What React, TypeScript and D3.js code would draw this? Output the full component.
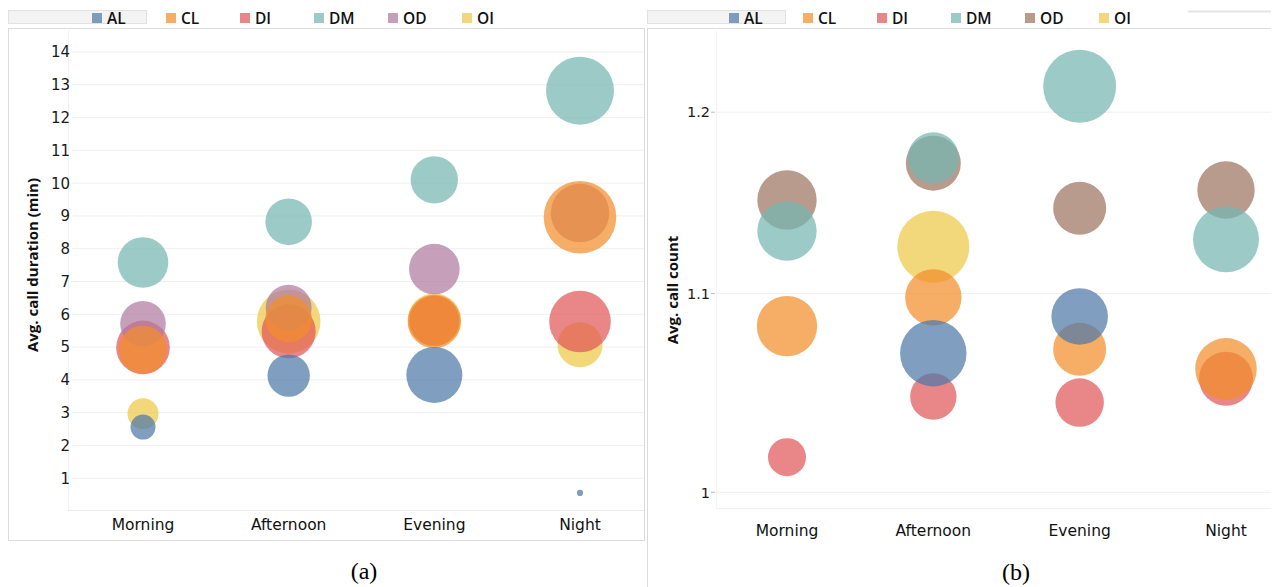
import React from "react";
import * as d3 from "d3";

const periods = ["Morning", "Afternoon", "Evening", "Night"];
const groups = ["AL", "CL", "DI", "DM", "OD", "OI"];

// (a) Avg. call duration (min)
const durAL = [2.56, 4.13, 4.15, 0.55];
const durCL = [4.92, 5.86, 5.78, 8.96];
const durDI = [4.99, 5.48, 5.8, 5.78];
const durDM = [7.58, 8.82, 10.1, 12.82];
const durOD = [5.71, 6.2, 7.38, 9.09];
const durOI = [2.97, 5.78, 5.83, 5.07];
const durSizeAL = [11.4, 32.8, 57.3, 0.7];
const durSizeCL = [42, 39.7, 52, 96.2];
const durSizeDI = [52.5, 53.3, 45.7, 69.3];
const durSizeDM = [46.8, 39.7, 41, 84.4];
const durSizeOD = [38, 38.6, 46.8, 62.7];
const durSizeOI = [17.5, 73.9, 51.3, 37];

// (b) Avg. call count
const cntAL = [null, 1.069, 1.088, null];
const cntCL = [1.083, 1.098, 1.071, 1.061];
const cntDI = [1.017, 1.047, 1.044, 1.056];
const cntDM = [1.1335, 1.174, 1.215, 1.129];
const cntOD = [1.1505, 1.171, 1.146, 1.156];
const cntOI = [null, 1.125, null, null];
const cntSizeAL = [null, 80.5, 58.5, null];
const cntSizeCL = [66.6, 58, 51.3, 69.3];
const cntSizeDI = [26.4, 39.3, 42.8, 53.3];
const cntSizeDM = [64.4, 47.5, 97.3, 79.5];
const cntSizeOD = [64.4, 55.2, 51.3, 60.2];
const cntSizeOI = [null, 94.7, null, null];

const durTicks = [1, 2, 3, 4, 5, 6, 7, 8, 9, 10, 11, 12, 13, 14];
const cntTicks = [1, 1.1, 1.2];

const colorsA: Record<string, string> = {
  AL: "#4E79A7", CL: "#F28E2B", DI: "#E15759", DM: "#76B7B2", OD: "#B07AA1", OI: "#EDC948",
};
const colorsB: Record<string, string> = {
  AL: "#4E79A7", CL: "#F28E2B", DI: "#E15759", DM: "#76B7B2", OD: "#9C755F", OI: "#EDC948",
};
const drawOrder = ["OI", "DI", "OD", "DM", "CL", "AL"];
const OPACITY = 0.72;
const FONT = "'Open Sans', 'Noto Sans', sans-serif";
const TICKFONT = "'DejaVu Sans', 'Open Sans', sans-serif";

const durValues: Record<string, number[]> = { AL: durAL, CL: durCL, DI: durDI, DM: durDM, OD: durOD, OI: durOI };
const durSizes: Record<string, number[]> = { AL: durSizeAL, CL: durSizeCL, DI: durSizeDI, DM: durSizeDM, OD: durSizeOD, OI: durSizeOI };
const cntValues: Record<string, (number | null)[]> = { AL: cntAL, CL: cntCL, DI: cntDI, DM: cntDM, OD: cntOD, OI: cntOI };
const cntSizes: Record<string, (number | null)[]> = { AL: cntSizeAL, CL: cntSizeCL, DI: cntSizeDI, DM: cntSizeDM, OD: cntSizeOD, OI: cntSizeOI };

const rScale = d3.scaleSqrt().domain([0, 100]).range([0, 37]);

function Legend({ x0, colors }: { x0: number; colors: Record<string, string> }) {
  const lx = d3.scalePoint<string>().domain(groups).range([x0, x0 + 370]);
  return (
    <g>
      {groups.map((g) => (
        <g key={g}>
          <rect x={(lx(g) as number) - 5} y={13} width={10} height={10} fill={colors[g]} fillOpacity={OPACITY} />
          <text x={(lx(g) as number) + 10} y={24} fontFamily={FONT} fontSize={15.5} fontWeight={600} fill="#111">{g}</text>
        </g>
      ))}
    </g>
  );
}

export default function App() {
  // Panel (a)
  const xA = d3.scalePoint<string>().domain(periods).range([143, 580]);
  const yA = d3.scaleLinear().domain([0, 14]).range([511, 52]);
  // Panel (b)
  const xB = d3.scalePoint<string>().domain(periods).range([787, 1226]);
  const yB = d3.scaleLog().domain([1, 1.2]).range([492.3, 112.2]);

  const marksA: { g: string; p: string; v: number; s: number }[] = [];
  const marksB: { g: string; p: string; v: number; s: number }[] = [];
  drawOrder.forEach((g) => {
    periods.forEach((p, i) => {
      marksA.push({ g, p, v: durValues[g][i], s: durSizes[g][i] });
      const v = cntValues[g][i];
      const s = cntSizes[g][i];
      if (v != null && s != null) marksB.push({ g, p, v, s });
    });
  });

  return (
    <svg width={1263} height={579} style={{ display: "block", margin: 0 }} viewBox="8 8 1263 579">
      <rect x={0} y={0} width={1279} height={587} fill="#fff" />
      {/* legend header strips */}
      <rect x={8.5} y={10.5} width={138} height={13} fill="#f3f3f3" stroke="#e2e2e2" />
      <rect x={647.5} y={10.5} width={138} height={13} fill="#f3f3f3" stroke="#e2e2e2" />
      <line x1={1188} x2={1279} y1={11.5} y2={11.5} stroke="#e4e4e4" strokeWidth={2} />

      {/* Panel (a) frame */}
      <rect x={8.5} y={28.5} width={636} height={512} fill="#fff" stroke="#dcdcdc" />
      <line x1={68.5} x2={68.5} y1={30} y2={510} stroke="#f2f2f2" />
      <line x1={68} x2={644} y1={510.5} y2={510.5} stroke="#ececec" />
      {durTicks.map((t) => (
        <g key={t}>
          <line x1={72} x2={644} y1={yA(t)} y2={yA(t)} stroke="#efefef" />
          <text x={70} y={yA(t)} dy="0.36em" textAnchor="end" fontFamily={TICKFONT} fontSize={15} fill="#1a1a1a">{t}</text>
        </g>
      ))}
      <text transform={`translate(38,265) rotate(-90)`} textAnchor="middle" fontFamily={FONT} fontSize={15} fontWeight={700} fill="#111">Avg. call duration (min)</text>
      {periods.map((p) => (
        <text key={p} x={xA(p)} y={529.5} textAnchor="middle" fontFamily={TICKFONT} fontSize={15.5} fill="#111">{p}</text>
      ))}
      {marksA.map((m, i) => (
        <circle key={i} cx={xA(m.p)} cy={yA(m.v)} r={Math.max(rScale(m.s), 2.5)} fill={colorsA[m.g]} fillOpacity={OPACITY} />
      ))}

      {/* Panel (b) frame */}
      <line x1={647.5} x2={647.5} y1={28} y2={587} stroke="#dcdcdc" />
      <line x1={647} x2={1279} y1={28.5} y2={28.5} stroke="#dcdcdc" />
      <line x1={716.5} x2={716.5} y1={30} y2={508} stroke="#f4f4f4" />
      <line x1={716} x2={1279} y1={508.5} y2={508.5} stroke="#f0f0f0" />
      {cntTicks.map((t) => (
        <g key={t}>
          <line x1={716} x2={1279} y1={yB(t)} y2={yB(t)} stroke="#efefef" />
          <line x1={711} x2={715} y1={yB(t)} y2={yB(t)} stroke="#bbb" />
          <text x={710} y={yB(t)} dy="0.36em" textAnchor="end" fontFamily={TICKFONT} fontSize={14.5} fill="#1a1a1a">{t}</text>
        </g>
      ))}
      <text transform={`translate(678,290) rotate(-90)`} textAnchor="middle" fontFamily={FONT} fontSize={15} fontWeight={700} fill="#111">Avg. call count</text>
      {periods.map((p) => (
        <text key={p} x={xB(p)} y={535.5} textAnchor="middle" fontFamily={TICKFONT} fontSize={15.5} fill="#111">{p}</text>
      ))}
      {marksB.map((m, i) => (
        <circle key={i} cx={xB(m.p)} cy={yB(m.v)} r={rScale(m.s)} fill={colorsB[m.g]} fillOpacity={OPACITY} />
      ))}

      <Legend x0={97} colors={colorsA} />
      <Legend x0={734} colors={colorsB} />

      <text x={364} y={579} textAnchor="middle" fontFamily="'Liberation Serif', 'DejaVu Serif', serif" fontSize={24} fill="#000">(a)</text>
      <text x={1016} y={580} textAnchor="middle" fontFamily="'Liberation Serif', 'DejaVu Serif', serif" fontSize={24} fill="#000">(b)</text>
    </svg>
  );
}
